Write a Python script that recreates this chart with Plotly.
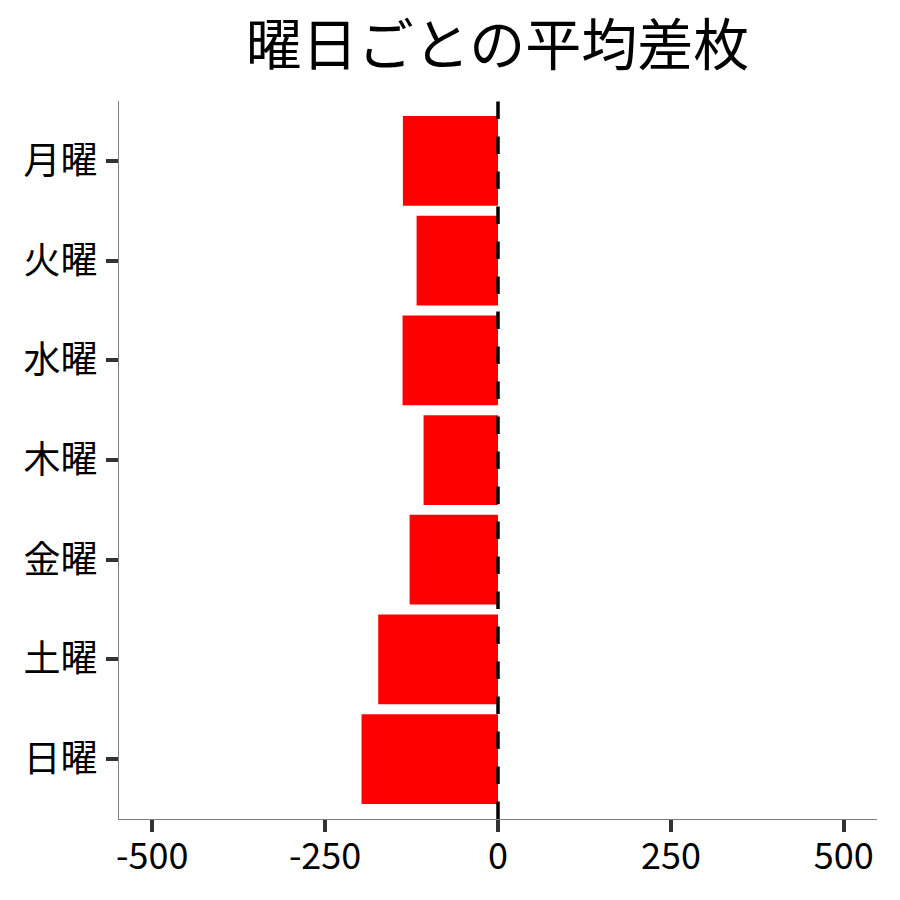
import plotly.graph_objects as go

days = ["月曜", "火曜", "水曜", "木曜", "金曜", "土曜", "日曜"]
avg_diff = [-137.5, -117.7, -138.0, -107.6, -127.8, -173.2, -197.3]
x_ticks = [-500, -250, 0, 250, 500]
x_tick_labels = ["-500", "-250", "0", "250", "500"]
title_text = "曜日ごとの平均差枚"

FONT = "Noto Sans CJK JP"

fig = go.Figure()
fig.add_trace(go.Bar(
    x=avg_diff, y=days, orientation="h",
    marker=dict(color="#FF0000", line=dict(width=0)),
    width=0.9,
))

fig.add_shape(type="line", xref="x", yref="paper", x0=0, x1=0, y0=0, y1=1,
              line=dict(color="black", width=3.5, dash="longdash"), layer="above")

fig.update_layout(
    width=900, height=900,
    paper_bgcolor="white", plot_bgcolor="white",
    margin=dict(l=111, r=31, t=93, b=89),
    showlegend=False,
    font=dict(family=FONT, color="black"),
    title=dict(text=title_text, x=0.544, xanchor="center", y=0.958, yanchor="middle",
               font=dict(family=FONT, size=56, color="black")),
    bargap=0.1,
)
fig.update_xaxes(
    range=[-548, 548], tickvals=x_ticks, ticktext=x_tick_labels,
    showgrid=False, zeroline=False,
    showline=True, linecolor="#7f7f7f", linewidth=1.3,
    ticks="outside", ticklen=12, tickwidth=3.5, tickcolor="#333333",
    tickfont=dict(family=FONT, size=36, color="black"),
    ticklabelstandoff=-6,
)
fig.update_yaxes(
    categoryorder="array", categoryarray=days,
    range=[6.6, -0.6],
    showgrid=False, zeroline=False,
    showline=True, linecolor="#7f7f7f", linewidth=1.3,
    ticks="outside", ticklen=12, tickwidth=3.5, tickcolor="#333333",
    tickfont=dict(family=FONT, size=37, color="black"),
    ticklabelstandoff=1,
)

fig.write_html("out.html")
